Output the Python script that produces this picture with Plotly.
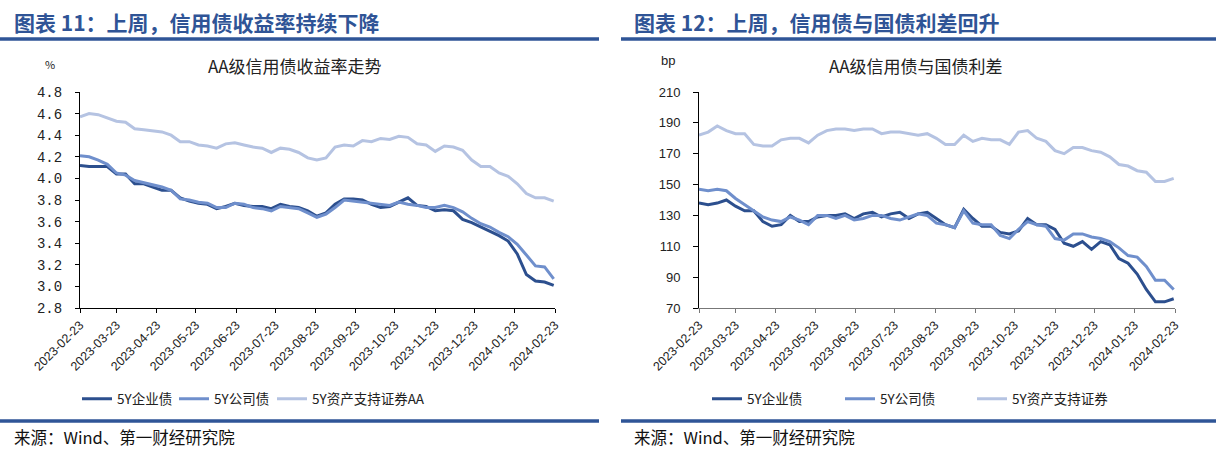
import pandas as pd
import plotly.graph_objects as go

# ---------------- data (weekly readings from the reference) ----------------
dates = pd.date_range("2023-02-23", "2024-02-22", freq="7D")
tick_dates = [pd.Timestamp(y, m, 23) for y, m in
              [(2023, 2), (2023, 3), (2023, 4), (2023, 5), (2023, 6), (2023, 7), (2023, 8),
               (2023, 9), (2023, 10), (2023, 11), (2023, 12), (2024, 1), (2024, 2)]]
tick_labels = [d.strftime("%Y-%m-%d") for d in tick_dates]

series_names_left = ["5Y企业债", "5Y公司债", "5Y资产支持证券AA"]
series_names_right = ["5Y企业债", "5Y公司债", "5Y资产支持证券"]

yield_qiye = [4.12, 4.11, 4.11, 4.11, 4.04, 4.04, 3.95, 3.95, 3.92, 3.89, 3.89, 3.82, 3.79,
              3.77, 3.76, 3.72, 3.74, 3.77, 3.75, 3.74, 3.74, 3.72, 3.76, 3.74, 3.73, 3.70,
              3.65, 3.68, 3.76, 3.81, 3.81, 3.80, 3.76, 3.73, 3.74, 3.78, 3.82, 3.75, 3.74,
              3.70, 3.71, 3.70, 3.62, 3.59, 3.55, 3.51, 3.47, 3.42, 3.30, 3.11, 3.05, 3.04, 3.01]
yield_gongsi = [4.21, 4.20, 4.17, 4.13, 4.05, 4.03, 3.98, 3.96, 3.94, 3.92, 3.89, 3.81, 3.80,
                3.78, 3.77, 3.73, 3.73, 3.77, 3.76, 3.73, 3.72, 3.70, 3.74, 3.73, 3.72, 3.68,
                3.64, 3.67, 3.73, 3.80, 3.79, 3.78, 3.77, 3.76, 3.75, 3.78, 3.76, 3.75, 3.73,
                3.73, 3.75, 3.73, 3.69, 3.63, 3.58, 3.55, 3.50, 3.46, 3.39, 3.29, 3.19, 3.18, 3.07]
yield_abs = [4.57, 4.60, 4.59, 4.56, 4.53, 4.52, 4.46, 4.45, 4.44, 4.43, 4.40, 4.34, 4.34,
             4.31, 4.30, 4.28, 4.32, 4.33, 4.31, 4.29, 4.28, 4.24, 4.28, 4.27, 4.24, 4.19,
             4.17, 4.19, 4.29, 4.31, 4.30, 4.35, 4.34, 4.37, 4.36, 4.39, 4.38, 4.32, 4.31,
             4.25, 4.30, 4.29, 4.26, 4.17, 4.11, 4.11, 4.05, 4.02, 3.95, 3.86, 3.82, 3.82, 3.79]

spread_qiye = [138, 137, 138, 140, 136, 133, 133, 126, 123, 124, 130, 126, 126, 129, 130, 130,
               131, 128, 131, 132, 129, 131, 132, 128, 131, 132, 128, 124, 122, 134, 128, 123,
               123, 119, 118, 120, 128, 124, 124, 121, 112, 110, 113, 108, 113, 111, 102, 99,
               92, 82, 74, 74, 76]
spread_gongsi = [147, 146, 147, 146, 141, 137, 133, 129, 127, 126, 129, 127, 124, 130, 130, 128,
                 130, 127, 128, 130, 130, 128, 127, 129, 131, 130, 125, 124, 122, 133, 125, 124,
                 124, 117, 115, 121, 126, 124, 123, 115, 114, 118, 118, 116, 115, 113, 109, 104,
                 103, 97, 88, 88, 82]
spread_abs = [182, 184, 188, 185, 183, 183, 176, 175, 175, 179, 180, 180, 177, 182, 185, 186,
              186, 185, 186, 186, 183, 184, 184, 183, 182, 183, 180, 176, 176, 182, 178, 180,
              179, 179, 176, 184, 185, 180, 178, 172, 170, 174, 174, 172, 171, 168, 163, 162,
              159, 158, 152, 152, 154]

colors = ["#2C4F8E", "#6F8FCC", "#B5C3E2"]

# ---------------- figure ----------------
W, H = 1216, 453


def px_x(p):
    return p / W


def px_y(p):
    return 1 - p / H


cjk = "Noto Sans CJK SC"
fig = go.Figure()

left_legend_x = [77, 174, 272]
right_legend_x = [707, 840, 972]
legend_layout = {}
k = 1
for name, vals, c, lx in zip(series_names_left, [yield_qiye, yield_gongsi, yield_abs], colors,
                             left_legend_x):
    lname = "legend" if k == 1 else f"legend{k}"
    fig.add_trace(go.Scatter(x=dates, y=vals, name=name, mode="lines",
                             line=dict(color=c, width=3), xaxis="x", yaxis="y", legend=lname))
    legend_layout[lname] = dict(orientation="h", x=px_x(lx), y=px_y(399), xanchor="left",
                                yanchor="middle", bgcolor="rgba(0,0,0,0)", borderwidth=0,
                                font=dict(family=cjk, size=13.5, color="#222"))
    k += 1
for name, vals, c, lx in zip(series_names_right, [spread_qiye, spread_gongsi, spread_abs], colors,
                             right_legend_x):
    lname = f"legend{k}"
    fig.add_trace(go.Scatter(x=dates, y=vals, name=name, mode="lines",
                             line=dict(color=c, width=3), xaxis="x2", yaxis="y2", legend=lname))
    legend_layout[lname] = dict(orientation="h", x=px_x(lx), y=px_y(399), xanchor="left",
                                yanchor="middle", bgcolor="rgba(0,0,0,0)", borderwidth=0,
                                font=dict(family=cjk, size=13.5, color="#222"))
    k += 1

ydom = [px_y(308), px_y(92)]

xcommon = dict(type="date", tickmode="array", tickvals=tick_dates, ticktext=tick_labels,
               tickangle=-45, ticks="outside", ticklen=4, showgrid=False, zeroline=False,
               showline=True, linewidth=1, automargin=False,
               range=[pd.Timestamp("2023-02-23"), pd.Timestamp("2024-02-23")],
               tickfont=dict(family="Liberation Sans", size=12.5, color="#222"))

fig.update_layout(
    template="none",
    width=W, height=H, margin=dict(l=0, r=0, t=0, b=0, pad=0, autoexpand=False),
    paper_bgcolor="white", plot_bgcolor="white",
    xaxis=dict(domain=[px_x(80), px_x(555)], anchor="y", linecolor="#000", tickcolor="#000",
               **xcommon),
    yaxis=dict(domain=ydom, anchor="x", range=[2.8, 4.8], tick0=2.8, dtick=0.2, tickformat=".1f",
               ticks="outside", ticklen=4, showgrid=False, zeroline=False, showline=True,
               linecolor="#000", linewidth=1, tickcolor="#000", automargin=False,
               ticklabelstandoff=10,
               tickfont=dict(family="Liberation Mono", size=14, color="#222")),
    xaxis2=dict(domain=[px_x(699), px_x(1175)], anchor="y2", linecolor="#777", tickcolor="#777",
                **xcommon),
    yaxis2=dict(domain=ydom, anchor="x2", range=[70, 210], tick0=70, dtick=20,
                ticks="outside", ticklen=5, showgrid=False, zeroline=False, showline=True,
                linecolor="#000", linewidth=1, tickcolor="#000", automargin=False,
                ticklabelstandoff=10,
                tickfont=dict(family="Liberation Sans", size=13, color="#222")),
    showlegend=True,
    **legend_layout,
)

title_color = "#2F5496"
annotations = [
    dict(text="<b>图表 11：上周，信用债收益率持续下降</b>", x=px_x(12), y=px_y(22),
         xanchor="left", yanchor="middle", font=dict(family=cjk, size=21, color=title_color)),
    dict(text="<b>图表 12：上周，信用债与国债利差回升</b>", x=px_x(632), y=px_y(22),
         xanchor="left", yanchor="middle", font=dict(family=cjk, size=21, color=title_color)),
    dict(text="AA级信用债收益率走势", x=px_x(295), y=px_y(66), xanchor="center", yanchor="middle",
         font=dict(family=cjk, size=17, color="#222")),
    dict(text="AA级信用债与国债利差", x=px_x(916), y=px_y(66), xanchor="center", yanchor="middle",
         font=dict(family=cjk, size=17, color="#222")),
    dict(text="%", x=px_x(50), y=px_y(64), xanchor="center", yanchor="middle",
         font=dict(family=cjk, size=11, color="#222")),
    dict(text="bp", x=px_x(668), y=px_y(60), xanchor="center", yanchor="middle",
         font=dict(family="Liberation Sans", size=13, color="#222")),
    dict(text="来源：Wind、第一财经研究院", x=px_x(12), y=px_y(437), xanchor="left",
         yanchor="middle", font=dict(family=cjk, size=16.5, color="#111")),
    dict(text="来源：Wind、第一财经研究院", x=px_x(632), y=px_y(437), xanchor="left",
         yanchor="middle", font=dict(family=cjk, size=16.5, color="#111")),
]
for a in annotations:
    a.update(xref="paper", yref="paper", showarrow=False)
fig.update_layout(annotations=annotations)

bar_color = "#2F5597"
shapes = []
for x0, x1 in [(0, 599), (621, 1216)]:
    for yy in (39, 421):
        shapes.append(dict(type="line", xref="paper", yref="paper", x0=px_x(x0), x1=px_x(x1),
                           y0=px_y(yy), y1=px_y(yy), line=dict(color=bar_color, width=3.5)))
fig.update_layout(shapes=shapes)

fig.write_html("out.html", config={"displayModeBar": False},
               post_script="document.body.style.margin='0px';")
